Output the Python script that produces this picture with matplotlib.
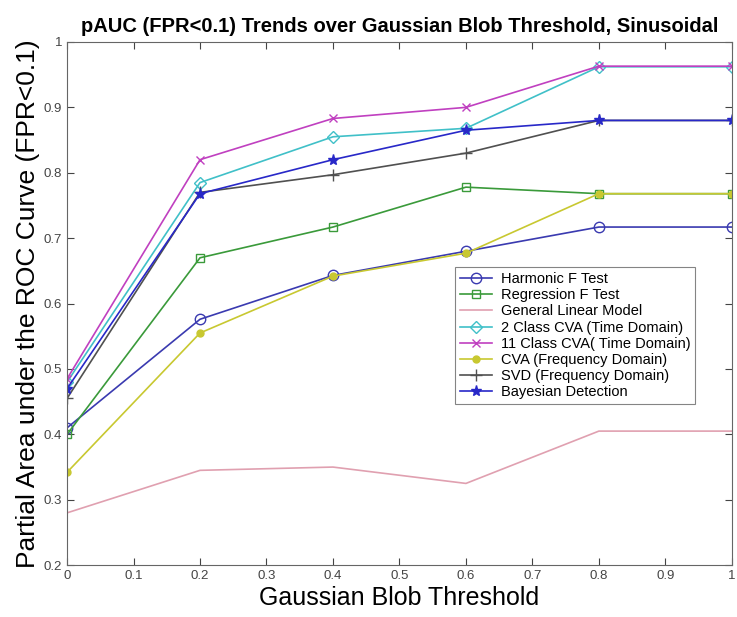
import matplotlib
matplotlib.use("Agg")
import matplotlib.pyplot as plt

plt.rcParams['font.family'] = ['Liberation Sans', 'DejaVu Sans']

thresholds = [0, 0.2, 0.4, 0.6, 0.8, 1.0]

harmonic = [0.410, 0.576, 0.643, 0.680, 0.717, 0.717]
regression = [0.400, 0.670, 0.717, 0.778, 0.768, 0.768]
glm = [0.280, 0.345, 0.350, 0.325, 0.405, 0.405]
cva2_time = [0.480, 0.785, 0.855, 0.868, 0.962, 0.962]
cva11_time = [0.485, 0.820, 0.883, 0.900, 0.963, 0.963]
cva_freq = [0.342, 0.555, 0.642, 0.677, 0.768, 0.768]
svd_freq = [0.455, 0.770, 0.797, 0.830, 0.880, 0.880]
bayesian = [0.470, 0.768, 0.820, 0.865, 0.880, 0.880]

# name, values, colour, marker, face, marker size
series = [
    ("Harmonic F Test", harmonic, '#3a3ab0', 'o', 'none', 7.5),
    ("Regression F Test", regression, '#3a9a3a', 's', 'none', 5.5),
    ("General Linear Model", glm, '#e0a0b0', None, 'none', 0),
    ("2 Class CVA (Time Domain)", cva2_time, '#40c0c8', 'D', 'none', 6),
    ("11 Class CVA( Time Domain)", cva11_time, '#c040c0', 'x', 'none', 6),
    ("CVA (Frequency Domain)", cva_freq, '#c8c830', 'o', '#c8c830', 5),
    ("SVD (Frequency Domain)", svd_freq, '#505050', '+', 'none', 8),
    ("Bayesian Detection", bayesian, '#2828c8', '*', '#2828c8', 8),
]

fig = plt.figure(figsize=(7.37, 6.17), dpi=100)
ax = fig.add_axes([0.091, 0.084, 0.902, 0.848])

for name, vals, color, marker, face, size in series:
    ax.plot(thresholds, vals, color=color, marker=marker, markerfacecolor=face,
            markeredgecolor=color, markersize=size, linewidth=1.2, label=name)

ax.set_xlim(0, 1)
ax.set_ylim(0.2, 1)
ax.set_xticks([0, 0.1, 0.2, 0.3, 0.4, 0.5, 0.6, 0.7, 0.8, 0.9, 1])
ax.set_xticklabels(['0', '0.1', '0.2', '0.3', '0.4', '0.5', '0.6', '0.7', '0.8', '0.9', '1'])
ax.set_yticks([0.2, 0.3, 0.4, 0.5, 0.6, 0.7, 0.8, 0.9, 1])
ax.set_yticklabels(['0.2', '0.3', '0.4', '0.5', '0.6', '0.7', '0.8', '0.9', '1'])
ax.tick_params(direction='in', top=True, right=True, labelsize=9.5, length=5,
               colors='#444444')
for s in ax.spines.values():
    s.set_color('#666666')

ax.set_xlabel("Gaussian Blob Threshold", fontsize=18, labelpad=3)
ax.set_ylabel("Partial Area under the ROC Curve (FPR<0.1)", fontsize=19, labelpad=3)
ax.set_title("pAUC (FPR<0.1) Trends over Gaussian Blob Threshold, Sinusoidal",
             fontsize=14.5, fontweight='bold', pad=7)

leg = ax.legend(loc='upper left', bbox_to_anchor=(0.583, 0.57), fontsize=10.5,
                frameon=True, fancybox=False, borderpad=0.35, labelspacing=0.15,
                handlelength=2.2, handletextpad=0.6, borderaxespad=0)
leg.get_frame().set_edgecolor('#666666')
leg.get_frame().set_linewidth(0.8)

fig.savefig("out.png", dpi=100)
